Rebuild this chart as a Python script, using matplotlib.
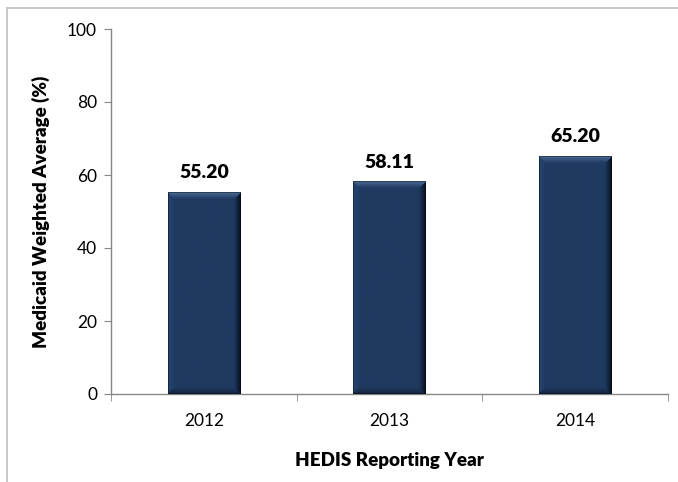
import numpy as np
import matplotlib
matplotlib.use("Agg")
import matplotlib.pyplot as plt
from matplotlib.patches import Rectangle

years = ["2012", "2013", "2014"]
averages = [55.20, 58.11, 65.20]
y_ticks = [0, 20, 40, 60, 80, 100]

W, H = 678, 482
BASE = np.array([0x1f, 0x3a, 0x61]) / 255.0


def bevel_image(w_px, h_px, band=7):
    """RGB image of a bar with an Excel-like bevelled edge."""
    w_px, h_px = max(int(round(w_px)), 2), max(int(round(h_px)), 2)
    yy, xx = np.mgrid[0:h_px, 0:w_px] + 0.5
    d_left, d_right = xx, w_px - xx
    d_top, d_bot = yy, h_px - yy
    img = np.tile(BASE, (h_px, w_px, 1))
    dists = np.stack([d_top, d_right, d_bot, d_left])
    nearest = dists.argmin(axis=0)
    dmin = dists.min(axis=0)
    t = np.clip(1 - dmin / band, 0, 1)[..., None]
    shades = {
        0: np.array([0x4c, 0x6b, 0x96]) / 255.0,  # top highlight
        1: np.array([0x06, 0x0f, 0x1c]) / 255.0,  # right shadow
        2: np.array([0x12, 0x26, 0x42]) / 255.0,  # bottom shadow
        3: np.array([0x26, 0x45, 0x6e]) / 255.0,  # left edge
    }
    for k, col in shades.items():
        m = (nearest == k)[..., None] & (dmin < band)[..., None]
        img = np.where(m, img * (1 - t) + col * t, img)
    # thin dark outline
    edge = (dmin < 1)[..., None]
    img = np.where(edge, img * 0.6, img)
    return img


fig = plt.figure(figsize=(W / 100, H / 100), dpi=100)
fig.patches.append(Rectangle((7 / W, -0.1), 1.2, 1 - 8 / H + 0.1,
                             transform=fig.transFigure, fill=False,
                             edgecolor="#bfbfbf", linewidth=1.2))

ax = fig.add_axes([111 / W, 1 - 394 / H, (668 - 111) / W, (394 - 29) / H])
x = np.arange(len(years))
bars = ax.bar(x, averages, width=0.39, color=BASE, zorder=2)
ax.set_xlim(-0.5, len(years) - 0.5)
ax.set_ylim(0, 100)

# replace flat bars with bevelled images
fig.canvas.draw()
for b in bars:
    bb = b.get_window_extent()
    img = bevel_image(bb.width, bb.height)
    ax.imshow(img, extent=(b.get_x(), b.get_x() + b.get_width(), 0, b.get_height()),
              aspect="auto", interpolation="bilinear", zorder=3)
    b.set_visible(False)
ax.set_xlim(-0.5, len(years) - 0.5)
ax.set_ylim(0, 100)

for xi, v in zip(x, averages):
    ax.annotate(f"{v:.2f}", (xi, v), xytext=(0, 8), textcoords="offset points",
                ha="center", va="bottom", fontsize=14, fontweight="heavy",
                family="Lato", color="black")

ax.set_yticks(y_ticks)
ax.set_xticks(x)
ax.set_xticks(np.arange(len(years) + 1) - 0.5, minor=True)
ax.set_xticklabels(years, family="Lato", fontsize=12.5)
ax.tick_params(axis="x", which="major", length=0, pad=14)
ax.tick_params(axis="x", which="minor", length=5, color="#868686", direction="out")
ax.tick_params(axis="y", length=5, color="#868686", labelsize=12.5, pad=5)
for lab in ax.get_yticklabels():
    lab.set_family("Lato")

for side in ["top", "right"]:
    ax.spines[side].set_visible(False)
for side in ["left", "bottom"]:
    ax.spines[side].set_color("#868686")
    ax.spines[side].set_linewidth(1.0)

ax.set_xlabel("HEDIS Reporting Year", family="Lato", fontsize=13.5,
              fontweight="heavy", labelpad=16)
ax.set_ylabel("Medicaid Weighted Average (%)", family="Lato", fontsize=13.5,
              fontweight="heavy", labelpad=12)

fig.savefig("out.png", dpi=100)
